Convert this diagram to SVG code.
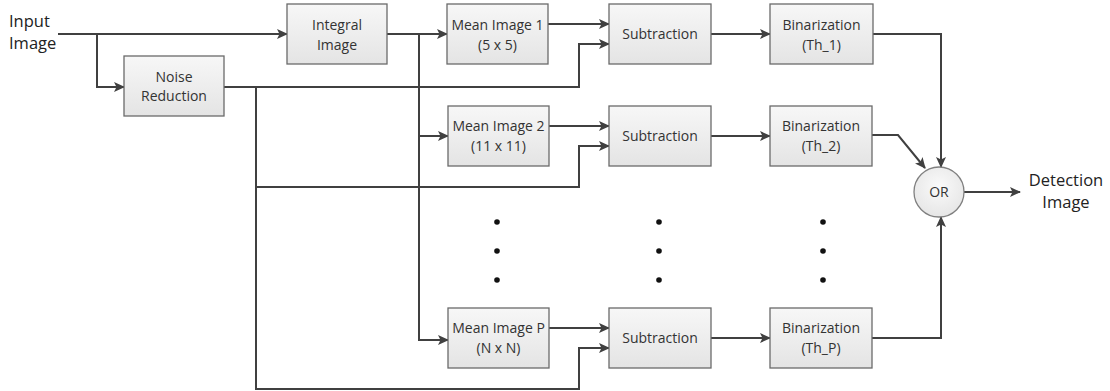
<svg xmlns="http://www.w3.org/2000/svg" width="1110" height="391" viewBox="0 0 1110 391">
<defs>
<linearGradient id="bf" x1="0" y1="0" x2="0" y2="1">
<stop offset="0" stop-color="#f7f7f7"/>
<stop offset="1" stop-color="#e4e4e4"/>
</linearGradient>
<radialGradient id="cf" cx="0.5" cy="0.4" r="0.6">
<stop offset="0" stop-color="#fafafa"/>
<stop offset="1" stop-color="#e6e6e6"/>
</radialGradient>
<marker id="ah" markerWidth="11" markerHeight="10" refX="10" refY="5" orient="auto" markerUnits="userSpaceOnUse">
<path d="M0,0 L11,5 L0,10 L2.5,5 Z" fill="#404040"/>
</marker>
</defs>
<style>
.box{fill:url(#bf);stroke:#6a6a6a;stroke-width:1.3}
.t{font-family:"Open Sans","Liberation Sans",Arial,sans-serif;font-size:14px;fill:#333;text-anchor:middle}
.big{font-family:"Open Sans","Liberation Sans",Arial,sans-serif;font-size:16.5px;fill:#222}
.c{fill:none;stroke:#404040;stroke-width:2}
.a{marker-end:url(#ah)}
.dot{fill:#111}
</style>
<rect width="1110" height="391" fill="#ffffff"/>

<g id="connectors">
<path class="c a" d="M58 34 H287"/>
<path class="c a" d="M97 34 V87 H124"/>
<path class="c a" d="M387 34 H447"/>
<path class="c a" d="M419 34 V340 H448"/>
<path class="c a" d="M419 136 H448"/>
<path class="c a" d="M548 24 H609"/>
<path class="c a" d="M224 87 H579 V44 H609"/>
<path class="c a" d="M256 87 V389 H579 V348 H609"/>
<path class="c a" d="M256 187 H579 V146 H609"/>
<path class="c a" d="M549 126 H609"/>
<path class="c a" d="M549 328 H609"/>
<path class="c a" d="M711 34 H770"/>
<path class="c a" d="M711 136 H770"/>
<path class="c a" d="M711 338 H770"/>
<path class="c a" d="M873 34 H941 V167"/>
<path class="c a" d="M872 135 H898 L925 168"/>
<path class="c a" d="M872 338 H941 V217"/>
<path class="c a" d="M964 192 H1020"/>
</g>

<g id="input">
<text class="big" x="9" y="27">Input</text>
<text class="big" x="9" y="49">Image</text>
</g>

<g id="noise">
<rect class="box" x="124" y="56" width="100" height="60"/>
<text class="t" x="174" y="82">Noise</text>
<text class="t" x="174" y="101">Reduction</text>
</g>

<g id="integral">
<rect class="box" x="287" y="4" width="100" height="60"/>
<text class="t" x="337" y="30">Integral</text>
<text class="t" x="337" y="50">Image</text>
</g>

<g id="mean1">
<rect class="box" x="447" y="4" width="101" height="60"/>
<text class="t" x="497.5" y="30">Mean Image 1</text>
<text class="t" x="497.5" y="50">(5 x 5)</text>
</g>

<g id="mean2">
<rect class="box" x="448" y="106" width="101" height="60"/>
<text class="t" x="498.5" y="131">Mean Image 2</text>
<text class="t" x="498.5" y="151">(11 x 11)</text>
</g>

<g id="meanP">
<rect class="box" x="448" y="308" width="101" height="60"/>
<text class="t" x="498.5" y="333">Mean Image P</text>
<text class="t" x="498.5" y="353">(N x N)</text>
</g>

<g id="sub1">
<rect class="box" x="609" y="4" width="102" height="60"/>
<text class="t" x="660" y="39">Subtraction</text>
</g>

<g id="sub2">
<rect class="box" x="609" y="106" width="102" height="60"/>
<text class="t" x="660" y="141">Subtraction</text>
</g>

<g id="subP">
<rect class="box" x="609" y="308" width="102" height="60"/>
<text class="t" x="660" y="343">Subtraction</text>
</g>

<g id="bin1">
<rect class="box" x="770" y="4" width="103" height="60"/>
<text class="t" x="821.5" y="30">Binarization</text>
<text class="t" x="821.5" y="50">(Th_1)</text>
</g>

<g id="bin2">
<rect class="box" x="770" y="106" width="102" height="60"/>
<text class="t" x="821" y="131">Binarization</text>
<text class="t" x="821" y="151">(Th_2)</text>
</g>

<g id="binP">
<rect class="box" x="770" y="308" width="102" height="60"/>
<text class="t" x="821" y="333">Binarization</text>
<text class="t" x="821" y="353">(Th_P)</text>
</g>

<g id="or">
<circle cx="939" cy="192" r="25" fill="url(#cf)" stroke="#808080" stroke-width="1.3"/>
<text class="t" x="939" y="197" style="font-size:14px">OR</text>
</g>

<g id="output">
<text class="big" x="1066" y="186" text-anchor="middle">Detection</text>
<text class="big" x="1066" y="208" text-anchor="middle">Image</text>
</g>

<g id="dots">
<circle class="dot" cx="497" cy="222" r="2.8"/>
<circle class="dot" cx="497" cy="251" r="2.8"/>
<circle class="dot" cx="497" cy="280" r="2.8"/>
<circle class="dot" cx="659" cy="222" r="2.8"/>
<circle class="dot" cx="659" cy="251" r="2.8"/>
<circle class="dot" cx="659" cy="280" r="2.8"/>
<circle class="dot" cx="823" cy="222" r="2.8"/>
<circle class="dot" cx="823" cy="251" r="2.8"/>
<circle class="dot" cx="823" cy="280" r="2.8"/>
</g>
</svg>
